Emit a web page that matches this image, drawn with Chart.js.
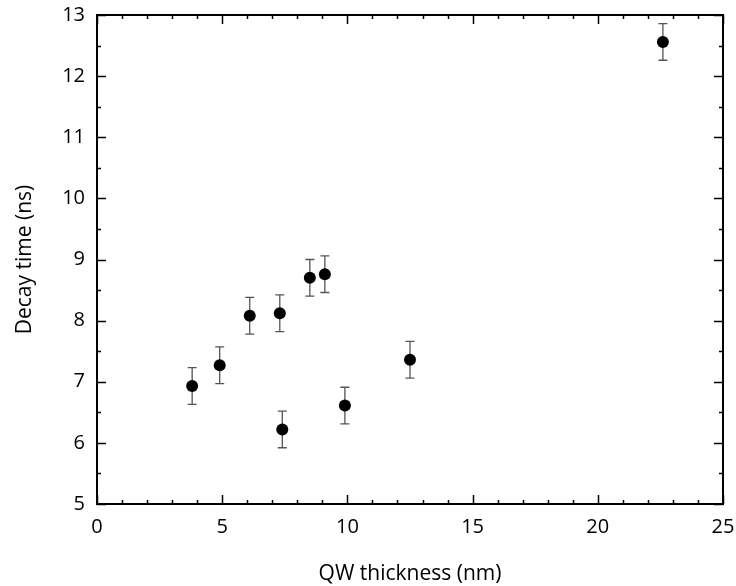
<!DOCTYPE html>
<html>
<head>
<meta charset="utf-8">
<title>Decay time vs QW thickness</title>
<script src="https://cdn.jsdelivr.net/npm/chart.js@4"></script>
<style>
  body { margin: 0; background: #fff; }
  canvas { display: block; }
</style>
</head>
<body>
<canvas id="myChart" width="736" height="586"></canvas>
<script>
const thickness  = [3.8, 4.9, 6.1, 7.3, 8.5, 9.1, 7.4, 9.9, 12.5, 22.6];
const decayTime  = [6.93, 7.27, 8.08, 8.12, 8.70, 8.76, 6.22, 6.61, 7.36, 12.56];
const decayError = [0.30, 0.30, 0.30, 0.30, 0.30, 0.30, 0.30, 0.30, 0.30, 0.30];

const xTicks = [0, 5, 10, 15, 20, 25];
const yTicks = [5, 6, 7, 8, 9, 10, 11, 12, 13];

const FONT = "'Open Sans', sans-serif";

// vertical error bars with caps, drawn under the markers
const errorBars = {
  id: 'errorBars',
  beforeDatasetsDraw(chart) {
    const {ctx, scales: {x, y}} = chart;
    ctx.save();
    ctx.strokeStyle = '#555';
    ctx.lineWidth = 1.3;
    thickness.forEach((t, i) => {
      const px = x.getPixelForValue(t);
      const top = y.getPixelForValue(decayTime[i] + decayError[i]);
      const bot = y.getPixelForValue(decayTime[i] - decayError[i]);
      ctx.beginPath();
      ctx.moveTo(px, top); ctx.lineTo(px, bot);
      ctx.moveTo(px - 4.5, top); ctx.lineTo(px + 4.5, top);
      ctx.moveTo(px - 4.5, bot); ctx.lineTo(px + 4.5, bot);
      ctx.stroke();
    });
    ctx.restore();
  }
};

// box frame with inward major/minor ticks on all four sides
const frame = {
  id: 'frame',
  afterDraw(chart) {
    const {ctx, chartArea: a, scales: {x, y}} = chart;
    const major = 9, minor = 4;
    ctx.save();
    ctx.strokeStyle = '#000';
    ctx.lineWidth = 1.5;
    ctx.beginPath();
    for (let v = x.min; v <= x.max; v += 1) {
      const px = Math.round(x.getPixelForValue(v)) + 0.5;
      const len = v % 5 === 0 ? major : minor;
      ctx.moveTo(px, a.bottom); ctx.lineTo(px, a.bottom - len);
      ctx.moveTo(px, a.top); ctx.lineTo(px, a.top + len);
    }
    for (let v = y.min; v <= y.max; v += 0.5) {
      const py = Math.round(y.getPixelForValue(v)) + 0.5;
      const len = v % 1 === 0 ? major : minor;
      ctx.moveTo(a.left, py); ctx.lineTo(a.left + len, py);
      ctx.moveTo(a.right, py); ctx.lineTo(a.right - len, py);
    }
    ctx.stroke();
    ctx.lineWidth = 2;
    ctx.strokeRect(a.left, a.top, a.right - a.left, a.bottom - a.top);
    ctx.restore();
  }
};

new Chart(document.getElementById('myChart'), {
  type: 'scatter',
  data: {
    datasets: [{
      data: thickness.map((t, i) => ({x: t, y: decayTime[i]})),
      backgroundColor: '#000',
      borderWidth: 0,
      pointRadius: 6,
      pointHoverRadius: 6
    }]
  },
  options: {
    responsive: false,
    animation: false,
    layout: { padding: { top: 15, right: 13, left: 0, bottom: 0 } },
    plugins: {
      legend: { display: false },
      tooltip: { enabled: false }
    },
    scales: {
      x: {
        type: 'linear',
        min: 0,
        max: 25,
        afterBuildTicks: (s) => { s.ticks = xTicks.map(v => ({value: v})); },
        afterFit: (s) => {
          s.height = 82;
          s.paddingLeft = 0;
          s.paddingRight = 0;
        },
        grid: { display: false, drawTicks: false },
        border: { display: false },
        ticks: { padding: 11, color: '#000', font: { family: FONT, size: 20 } },
        title: {
          display: true,
          text: 'QW thickness (nm)',
          color: '#000',
          padding: { top: 0, bottom: 1 },
          font: { family: FONT, size: 21, lineHeight: 1 }
        }
      },
      y: {
        type: 'linear',
        min: 5,
        max: 13,
        afterBuildTicks: (s) => { s.ticks = yTicks.map(v => ({value: v})); },
        afterFit: (s) => {
          s.width = 97;
          s.paddingTop = 0;
          s.paddingBottom = 0;
        },
        grid: { display: false, drawTicks: false },
        border: { display: false },
        ticks: { padding: 12, color: '#000', font: { family: FONT, size: 20 } },
        title: {
          display: true,
          text: 'Decay time (ns)',
          color: '#000',
          padding: { top: 15, bottom: 0 },
          font: { family: FONT, size: 21, lineHeight: 1 }
        }
      }
    }
  },
  plugins: [errorBars, frame]
});
</script>
</body>
</html>
